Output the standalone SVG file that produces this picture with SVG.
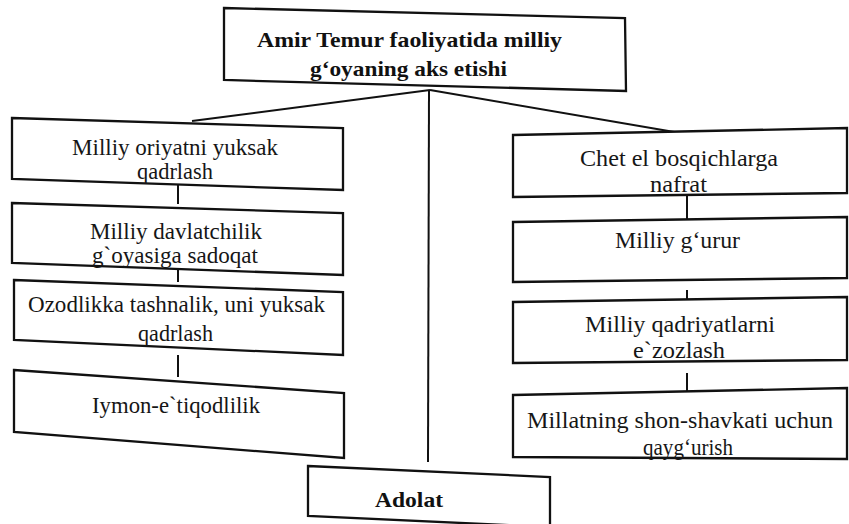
<svg xmlns="http://www.w3.org/2000/svg" width="849" height="524" viewBox="0 0 849 524">
<style>
.box{fill:#fff;stroke:#111;stroke-width:2.3;stroke-linejoin:miter}
.t{font-family:"Liberation Serif","DejaVu Serif","Times New Roman",serif;font-size:23px;fill:#161616}
.b{font-family:"Liberation Serif","DejaVu Serif","Times New Roman",serif;font-size:21px;font-weight:bold;fill:#111}
.c{stroke:#111;stroke-width:2;fill:none}
</style>
<rect width="849" height="524" fill="#fff"/>
<g id="connectors">
<line class="c" x1="430" y1="90" x2="192" y2="121"/>
<line class="c" x1="430" y1="90" x2="686" y2="134"/>
<line class="c" x1="429" y1="90" x2="428" y2="462"/>
<line class="c" x1="178" y1="180" x2="178" y2="204"/>
<line class="c" x1="178" y1="264" x2="178" y2="282"/>
<line class="c" x1="178" y1="355" x2="178" y2="377"/>
<line class="c" x1="687" y1="196" x2="687" y2="221"/>
<line class="c" x1="687" y1="290" x2="687" y2="301"/>
<line class="c" x1="687" y1="373" x2="687" y2="394"/>
</g>
<g id="top">
<polygon class="box" points="224,8 625,18 626,91 224,80"/>
<text class="b" x="257" y="47" textLength="305" lengthAdjust="spacingAndGlyphs">Amir Temur faoliyatida milliy</text>
<text class="b" x="310" y="76" textLength="197" lengthAdjust="spacingAndGlyphs">g‘oyaning aks etishi</text>
</g>
<g id="l1">
<polygon class="box" points="12,118 343,128 343,190 12,179"/>
<text class="t" x="72" y="155" textLength="206" lengthAdjust="spacingAndGlyphs">Milliy oriyatni yuksak</text>
<text class="t" x="137" y="179" textLength="76" lengthAdjust="spacingAndGlyphs">qadrlash</text>
</g>
<g id="l2">
<polygon class="box" points="12,203 343,213 343,275 12,263"/>
<text class="t" x="90" y="239" textLength="172" lengthAdjust="spacingAndGlyphs">Milliy davlatchilik</text>
<text class="t" x="92" y="263" textLength="166" lengthAdjust="spacingAndGlyphs">g`oyasiga sadoqat</text>
</g>
<g id="l3">
<polygon class="box" points="14,280 343,292 343,355 14,340"/>
<text class="t" x="28" y="312" textLength="297" lengthAdjust="spacingAndGlyphs">Ozodlikka tashnalik, uni yuksak</text>
<text class="t" x="138" y="341" textLength="75" lengthAdjust="spacingAndGlyphs">qadrlash</text>
</g>
<g id="l4">
<polygon class="box" points="14,370 344,393 344,458 14,432"/>
<text class="t" x="92" y="413" textLength="168" lengthAdjust="spacingAndGlyphs">Iymon-e`tiqodlilik</text>
</g>
<g id="r1">
<polygon class="box" points="513,135 847,128 847,193 513,197"/>
<text class="t" x="580" y="166" textLength="198" lengthAdjust="spacingAndGlyphs">Chet el bosqichlarga</text>
<text class="t" x="650" y="192" textLength="57" lengthAdjust="spacingAndGlyphs">nafrat</text>
</g>
<g id="r2">
<polygon class="box" points="513,222 847,217 847,278 513,282"/>
<text class="t" x="615" y="248" textLength="125" lengthAdjust="spacingAndGlyphs">Milliy g‘urur</text>
</g>
<g id="r3">
<polygon class="box" points="513,302 847,297 847,360 513,363"/>
<text class="t" x="585" y="332" textLength="190" lengthAdjust="spacingAndGlyphs">Milliy qadriyatlarni</text>
<text class="t" x="633" y="358" textLength="92" lengthAdjust="spacingAndGlyphs">e`zozlash</text>
</g>
<g id="r4">
<polygon class="box" points="513,395 847,388 847,459 513,457"/>
<text class="t" x="527" y="428" textLength="306" lengthAdjust="spacingAndGlyphs">Millatning shon-shavkati uchun</text>
<text class="t" x="643" y="455" textLength="90" lengthAdjust="spacingAndGlyphs">qayg‘urish</text>
</g>
<g id="adolat">
<polygon class="box" points="308,466 550,477 550,527 308,516"/>
<text class="b" x="375" y="507" textLength="68" lengthAdjust="spacingAndGlyphs">Adolat</text>
</g>
</svg>
